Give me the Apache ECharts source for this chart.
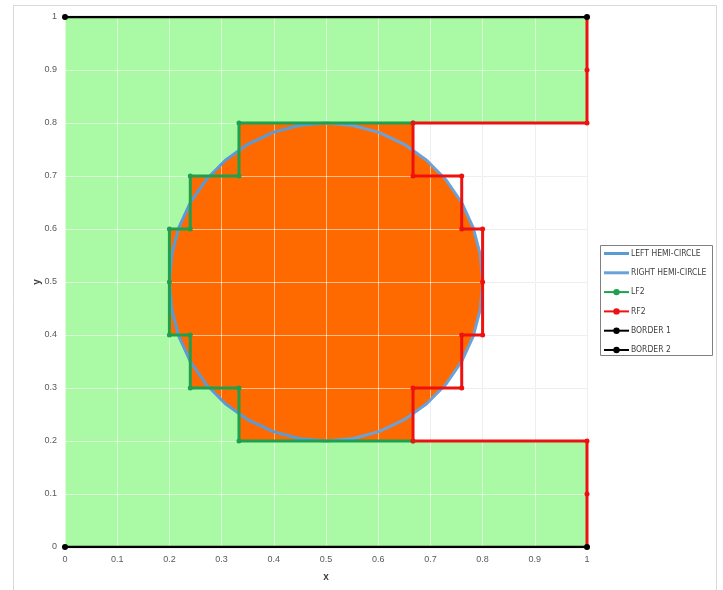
<!DOCTYPE html>
<html>
<head>
<meta charset="utf-8">
<script src="https://cdn.jsdelivr.net/npm/echarts@6/dist/echarts.min.js"></script>
<style>
  html, body { margin: 0; padding: 0; background: #fff; }
  #chart { width: 723px; height: 590px; }
</style>
</head>
<body>
<div id="chart"></div>
<script>
// Circle of radius 0.3 centred at (0.5, 0.5), listed every 10 degrees
const leftHemiCircle = [
  [0.5, 0.8], [0.4479, 0.7954], [0.3974, 0.7819], [0.35, 0.7598], [0.3072, 0.7298],
  [0.2702, 0.6928], [0.2402, 0.65], [0.2181, 0.6026], [0.2046, 0.5521], [0.2, 0.5],
  [0.2046, 0.4479], [0.2181, 0.3974], [0.2402, 0.35], [0.2702, 0.3072], [0.3072, 0.2702],
  [0.35, 0.2402], [0.3974, 0.2181], [0.4479, 0.2046], [0.5, 0.2]
];
const rightHemiCircle = [
  [0.5, 0.2], [0.5521, 0.2046], [0.6026, 0.2181], [0.65, 0.2402], [0.6928, 0.2702],
  [0.7298, 0.3072], [0.7598, 0.35], [0.7819, 0.3974], [0.7954, 0.4479], [0.8, 0.5],
  [0.7954, 0.5521], [0.7819, 0.6026], [0.7598, 0.65], [0.7298, 0.6928], [0.6928, 0.7298],
  [0.65, 0.7598], [0.6026, 0.7819], [0.5521, 0.7954], [0.5, 0.8]
];

// Stepped boundaries on the left and right of the circle
const lf2 = [
  [0.6667, 0.8], [0.3333, 0.8], [0.3333, 0.7], [0.24, 0.7], [0.24, 0.6], [0.2, 0.6],
  [0.2, 0.5], [0.2, 0.4], [0.24, 0.4], [0.24, 0.3], [0.3333, 0.3], [0.3333, 0.2], [0.6667, 0.2]
];
const rf2 = [
  [1, 1], [1, 0.9], [1, 0.8], [0.6667, 0.8], [0.6667, 0.7], [0.76, 0.7], [0.76, 0.6],
  [0.8, 0.6], [0.8, 0.5], [0.8, 0.4], [0.76, 0.4], [0.76, 0.3], [0.6667, 0.3],
  [0.6667, 0.2], [1, 0.2], [1, 0.1], [1, 0]
];
const border1 = [[0, 0], [1, 0]];
const border2 = [[0, 1], [1, 1]];

const seriesNames = ['LEFT HEMI-CIRCLE', 'RIGHT HEMI-CIRCLE', 'LF2', 'RF2', 'BORDER 1', 'BORDER 2'];

// Filled regions built from the boundaries above
const greenRegion = [border1[0], border1[1], [1, 0.2]]
  .concat(lf2.slice().reverse())
  .concat([[1, 0.8], border2[1], border2[0]]);
const orangeStepRegion = lf2;
const orangeCircleRegion = leftHemiCircle.concat(rightHemiCircle);

function regionSeries(points, color, z) {
  return {
    type: 'custom',
    silent: true,
    z: z,
    data: points,
    renderItem: function (params, api) {
      if (params.dataIndex !== 0) return { type: 'group', children: [] };
      return {
        type: 'polygon',
        shape: { points: points.map(function (p) { return api.coord(p); }) },
        style: { fill: color }
      };
    }
  };
}

function lineSeries(name, data, color, width, symbolSize) {
  return {
    name: name,
    type: 'line',
    data: data,
    z: 6,
    showSymbol: symbolSize > 0,
    symbol: symbolSize > 0 ? 'circle' : 'none',
    symbolSize: symbolSize,
    lineStyle: { color: color, width: width },
    itemStyle: { color: color },
    animation: false
  };
}

const chart = echarts.init(document.getElementById('chart'), null, { renderer: 'canvas' });

const labelStyle = { color: '#595959', fontSize: 9, fontFamily: 'Liberation Sans, Arial, sans-serif' };

// Plain line icon (no marker) for the two hemi-circle entries
const plainLineIcon = 'path://M0,0 L25,0 L25,3 L0,3 Z';

chart.setOption({
  animation: false,
  backgroundColor: '#ffffff',
  grid: { left: 65, right: 136, top: 17, bottom: 43, containLabel: false },
  xAxis: [
    {
      type: 'value', min: 0, max: 1, interval: 0.1,
      name: 'x', nameLocation: 'middle', nameGap: 25,
      nameTextStyle: { color: '#404040', fontSize: 10, fontWeight: 'bold', fontFamily: 'Liberation Sans, Arial, sans-serif' },
      axisLine: { show: false }, axisTick: { show: false },
      axisLabel: Object.assign({ margin: 8 }, labelStyle),
      splitLine: { show: true, lineStyle: { color: '#d9d9d9', width: 1 } }
    },
    {
      type: 'value', min: 0, max: 1, interval: 0.1, z: 3,
      axisLine: { show: false }, axisTick: { show: false }, axisLabel: { show: false },
      splitLine: { show: true, lineStyle: { color: 'rgba(255,255,255,0.55)', width: 1 } }
    }
  ],
  yAxis: [
    {
      type: 'value', min: 0, max: 1, interval: 0.1,
      name: 'y', nameLocation: 'middle', nameGap: 23, nameRotate: 90, nameMoveOverlap: false,
      nameTextStyle: { color: '#404040', fontSize: 10, fontWeight: 'bold', fontFamily: 'Liberation Sans, Arial, sans-serif' },
      axisLine: { show: false }, axisTick: { show: false },
      axisLabel: Object.assign({ margin: 8 }, labelStyle),
      splitLine: { show: true, lineStyle: { color: '#d9d9d9', width: 1 } }
    },
    {
      type: 'value', min: 0, max: 1, interval: 0.1, z: 3,
      axisLine: { show: false }, axisTick: { show: false }, axisLabel: { show: false },
      splitLine: { show: true, lineStyle: { color: 'rgba(255,255,255,0.55)', width: 1 } }
    }
  ],
  legend: {
    data: [
      { name: seriesNames[0], icon: plainLineIcon },
      { name: seriesNames[1], icon: plainLineIcon },
      seriesNames[2], seriesNames[3], seriesNames[4], seriesNames[5]
    ],
    orient: 'vertical',
    left: 603, top: 249,
    itemWidth: 25, itemHeight: 8, itemGap: 10.3,
    padding: 0,
    textStyle: { color: '#404040', fontSize: 8.5, fontFamily: 'Liberation Sans Narrow, DejaVu Sans Condensed, Liberation Sans, sans-serif', padding: [0, 0, 0, -3] }
  },
  graphic: [
    { type: 'rect', shape: { x: 13.5, y: 5.5, width: 703, height: 600 }, style: { fill: 'none', stroke: '#d9d9d9', lineWidth: 1 }, silent: true },
    { type: 'rect', shape: { x: 600.5, y: 245.5, width: 112, height: 110 }, style: { fill: 'none', stroke: '#808080', lineWidth: 1 }, silent: true }
  ],
  series: [
    regionSeries(greenRegion, '#aaf9a4', 1),
    regionSeries(orangeStepRegion, '#ff6a00', 1),
    regionSeries(orangeCircleRegion, '#ff6a00', 1),
    lineSeries(seriesNames[0], leftHemiCircle, '#5b9bd5', 3, 0),
    lineSeries(seriesNames[1], rightHemiCircle, '#6aa1d8', 3, 0),
    lineSeries(seriesNames[2], lf2, '#1ea04f', 3, 5),
    lineSeries(seriesNames[3], rf2, '#ee1111', 3, 5),
    lineSeries(seriesNames[4], border1, '#000000', 2.5, 6),
    lineSeries(seriesNames[5], border2, '#000000', 2.5, 6)
  ]
});
</script>
</body>
</html>
